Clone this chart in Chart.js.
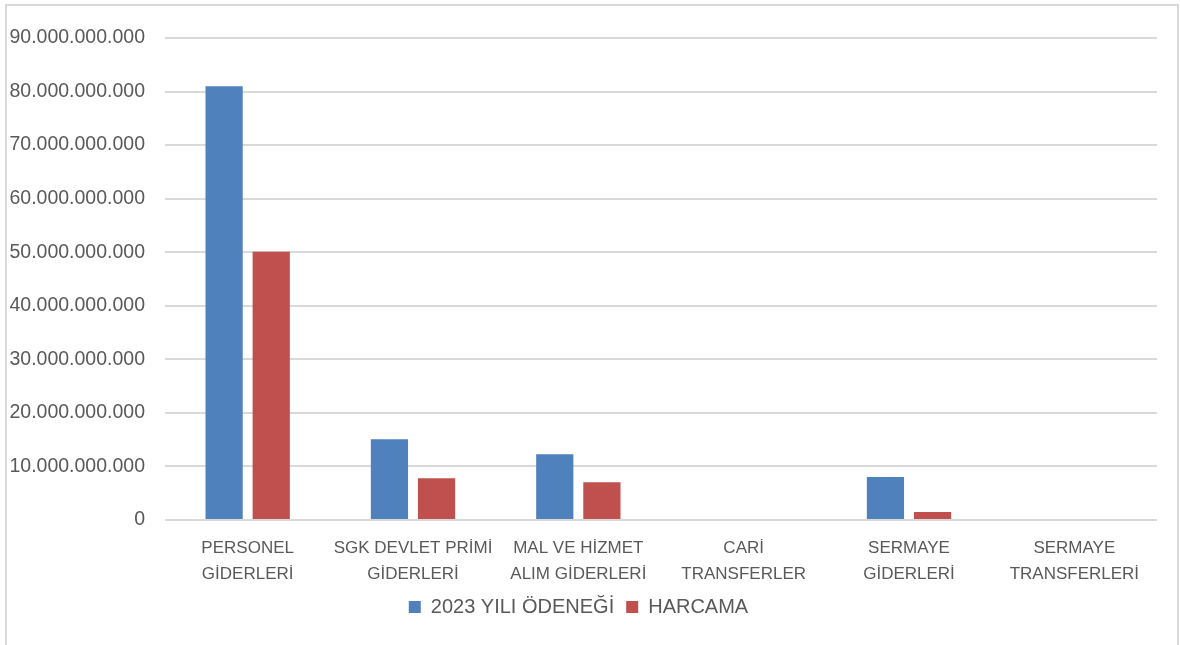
<!DOCTYPE html>
<html>
<head>
<meta charset="utf-8">
<script src="https://cdn.jsdelivr.net/npm/chart.js@4"></script>
<style>
  html, body { margin: 0; padding: 0; background: #fff; overflow: hidden; }
  #frame { position: absolute; left: 5px; top: 4px; width: 1174px; height: 700px; border: 2px solid #d9d9d9; box-sizing: border-box; }
  #wrap { position: absolute; left: 0; top: 0; width: 1180px; height: 645px; }
</style>
</head>
<body>
<div id="frame"></div>
<div id="wrap"><canvas id="c" width="1180" height="645"></canvas></div>
<script>
const categories = [
  ["PERSONEL", "GİDERLERİ"],
  ["SGK DEVLET PRİMİ", "GİDERLERİ"],
  ["MAL VE HİZMET", "ALIM GİDERLERİ"],
  ["CARİ", "TRANSFERLER"],
  ["SERMAYE", "GİDERLERİ"],
  ["SERMAYE", "TRANSFERLERİ"]
];
const seriesNames = ["2023 YILI ÖDENEĞİ", "HARCAMA"];
const odenek = [81000000000, 15100000000, 12300000000, 0, 8050000000, 0];
const harcama = [50100000000, 7800000000, 7050000000, 0, 1500000000, 0];
const yMax = 90000000000;
const yStep = 10000000000;

function fmt(v) {
  return Math.round(v).toString().replace(/\B(?=(\d{3})+(?!\d))/g, ".");
}

const FONT = "'Liberation Sans', Arial, sans-serif";
const TXT = "#595959";

new Chart(document.getElementById("c"), {
  type: "bar",
  data: {
    labels: categories,
    datasets: [
      { label: seriesNames[0], data: odenek, backgroundColor: "#4F81BD", borderWidth: 0 },
      { label: seriesNames[1], data: harcama, backgroundColor: "#C0504D", borderWidth: 0 }
    ]
  },
  options: {
    responsive: false,
    animation: false,
    devicePixelRatio: 1,
    layout: { padding: { top: 38, right: 23, bottom: 18, left: 0 } },
    datasets: { bar: { categoryPercentage: 0.57, barPercentage: 0.79 } },
    plugins: {
      tooltip: { enabled: false },
      legend: {
        position: "bottom",
        labels: {
          color: TXT,
          font: { family: FONT, size: 20 },
          boxWidth: 12,
          boxHeight: 12,
          padding: 12
        }
      }
    },
    scales: {
      x: {
        grid: { display: false, drawTicks: false },
        border: { display: false },
        ticks: {
          color: TXT,
          font: { family: FONT, size: 17, lineHeight: 1.55 },
          padding: 15,
          maxRotation: 0,
          autoSkip: false
        },
        afterFit(scale) { scale.height = 65; }
      },
      y: {
        min: 0,
        max: yMax,
        grid: { color: "#d9d9d9", lineWidth: 2, drawTicks: false },
        border: { display: false },
        ticks: {
          stepSize: yStep,
          color: TXT,
          font: { family: FONT, size: 19.5 },
          padding: 20,
          callback: (v) => fmt(v)
        },
        afterFit(scale) { scale.width = 165; }
      }
    }
  }
});
</script>
</body>
</html>
